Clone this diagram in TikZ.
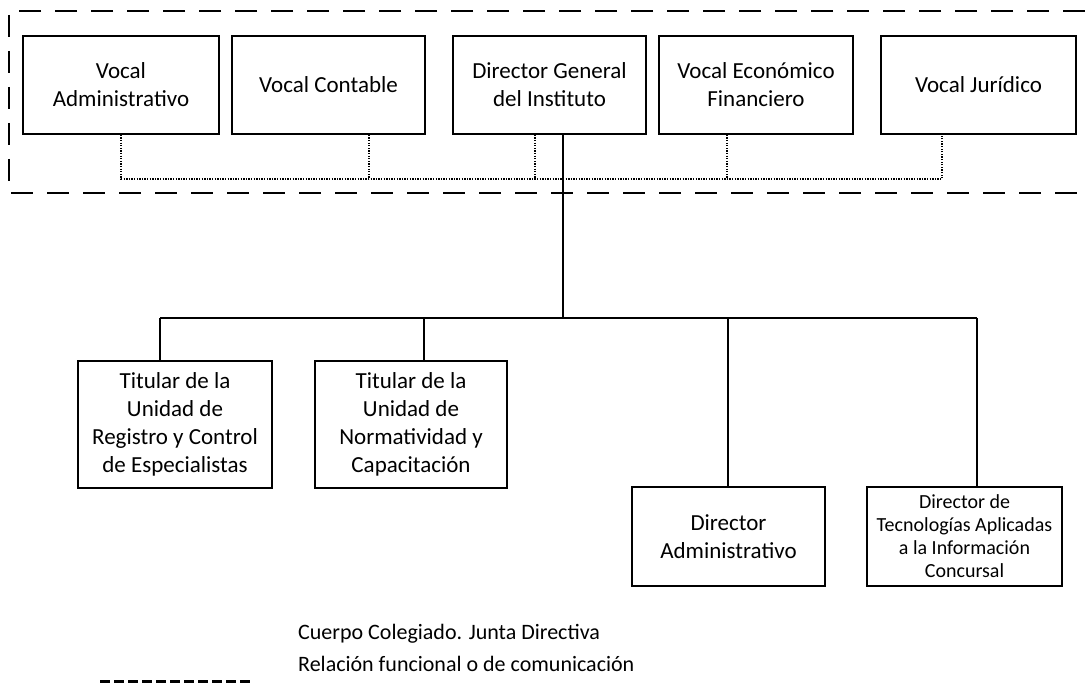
\documentclass[tikz,border=0pt]{standalone}
\usepackage{fontspec}
\setmainfont{Carlito}
\begin{document}
\begin{tikzpicture}[x=1pt,y=-1pt,
  box/.style={draw, line width=1.6pt, align=center, inner sep=0pt, font=\fontsize{23}{28}\selectfont},
  topbox/.style={box, minimum height=98pt},
  lowbox/.style={box, minimum height=127pt},
  adbox/.style={box, minimum height=99pt},
  conn/.style={line width=1.8pt},
  dotline/.style={line width=1.2pt, dash pattern=on 1.3pt off 1.3pt},
  frameline/.style={line width=1.8pt, dash pattern=on 22pt off 14pt},
  legline/.style={line width=2.5pt, dash pattern=on 10pt off 4pt},
  legtext/.style={anchor=west, inner sep=0pt, font=\fontsize{22}{26}\selectfont}]
\useasboundingbox (0,0) rectangle (1085,684);

% dashed frame of the Junta Directiva
\coordinate (ftr) at (1085,11);
\coordinate (ftl) at (9,11);
\coordinate (fbl) at (9,193);
\coordinate (fbr) at (1085,193);
\draw[frameline] (ftr) -- (ftl) -- (fbl) -- (fbr);

% top row
\node[topbox, minimum width=196pt] (va) at (121,85) {Vocal\\Administrativo};
\node[topbox, minimum width=193pt] (vc) at (328.5,85) {Vocal Contable};
\node[topbox, minimum width=193pt] (dg) at (549.5,85) {Director General\\del Instituto};
\node[topbox, minimum width=194pt] (ve) at (756,85) {Vocal Económico\\Financiero};
\node[topbox, minimum width=195pt] (vj) at (978.5,85) {Vocal Jurídico};

% lower boxes
\node[lowbox, minimum width=194pt] (tr) at (175,424.5) {Titular de la\\Unidad de\\Registro y Control\\de Especialistas};
\node[lowbox, minimum width=192pt] (tn) at (411,424.5) {Titular de la\\Unidad de\\Normatividad y\\Capacitación};
\node[adbox, minimum width=193pt] (da) at (728.5,536.5) {Director\\Administrativo};
\node[adbox, minimum width=195pt, font=\fontsize{20}{23}\selectfont] (dt) at (964.5,536.5) {Director de\\Tecnologías Aplicadas\\a la Información\\Concursal};

% dotted functional relations
\coordinate (dotbar) at (0,179);
\coordinate (vad) at (va.south);
\coordinate (vcd) at ([xshift=40.5pt]vc.south);
\coordinate (dgd) at ([xshift=-14.5pt]dg.south);
\coordinate (ved) at ([xshift=-29pt]ve.south);
\coordinate (vjd) at ([xshift=-36.5pt]vj.south);
\draw[dotline] (vad) -- (vad |- dotbar) -- (vjd |- dotbar) -- (vjd);
\draw[dotline] (vcd) -- (vcd |- dotbar);
\draw[dotline] (dgd) -- (dgd |- dotbar);
\draw[dotline] (ved) -- (ved |- dotbar);

% hierarchy
\coordinate (dgs) at ([xshift=13.5pt]dg.south);
\coordinate (jn) at (563,318);
\coordinate (trn) at ([xshift=-15pt]tr.north);
\coordinate (tnn) at ([xshift=13pt]tn.north);
\coordinate (dan) at ([xshift=-0.5pt]da.north);
\coordinate (dtn) at ([xshift=12.5pt]dt.north);
\draw[conn] (dgs) -- (jn);
\draw[conn] (trn |- jn) -- (dtn |- jn);
\draw[conn] (trn |- jn) -- (trn);
\draw[conn] (tnn |- jn) -- (tnn);
\draw[conn] (dan |- jn) -- (dan);
\draw[conn] (dtn |- jn) -- (dtn);

% legend
\node[legtext] (l1) at (298,634) {Cuerpo Colegiado. Junta Directiva};
\node[legtext] (l2) at (298,664) {Relación funcional o de comunicación};
\coordinate (ls) at (100,681.5);
\coordinate (le) at (252,681.5);
\draw[legline] (ls) -- (le);
\end{tikzpicture}
\end{document}
